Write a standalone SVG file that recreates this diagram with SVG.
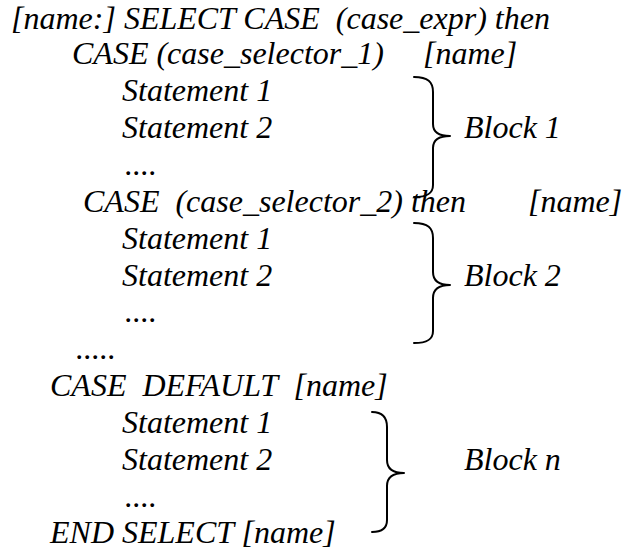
<svg xmlns="http://www.w3.org/2000/svg" width="624" height="550" viewBox="0 0 624 550">
<style>
.t { font-family: 'Liberation Serif', 'DejaVu Serif', serif; font-style: italic; font-size: 32px; fill: #000000; }
.brace { fill: none; stroke: #000000; stroke-width: 2; stroke-linecap: round; stroke-linejoin: round; }
</style>
<rect width="624" height="550" fill="#ffffff"/>
<g class="t" font-family="Liberation Serif, serif" font-style="italic" font-size="32">
<g id="select-head">
<text x="11" y="29" xml:space="preserve">[name:] SELECT CASE  (case_expr) then</text>
</g>
<g id="case-1">
<text x="72" y="64" xml:space="preserve">CASE (case_selector_1)</text>
<text x="423" y="64">[name]</text>
<text x="122" y="101">Statement 1</text>
<text x="122" y="138">Statement 2</text>
<text x="125" y="175">....</text>
<text x="464" y="138">Block 1</text>
</g>
<g id="case-2">
<text x="83" y="212" xml:space="preserve">CASE  (case_selector_2) then</text>
<text x="528" y="212">[name]</text>
<text x="122" y="249">Statement 1</text>
<text x="122" y="286">Statement 2</text>
<text x="125" y="322">....</text>
<text x="464" y="286">Block 2</text>
</g>
<g id="more">
<text x="76" y="359">.....</text>
</g>
<g id="case-default">
<text x="50" y="396" xml:space="preserve">CASE  DEFAULT  [name]</text>
<text x="122" y="433">Statement 1</text>
<text x="122" y="470">Statement 2</text>
<text x="125" y="507">....</text>
<text x="464" y="470">Block n</text>
</g>
<g id="select-end">
<text x="50" y="543">END SELECT [name]</text>
</g>
</g>
<g id="connectors">
<path class="brace" d="M414 77 C428 77 433 82 433 92 L433 124 C433 132 438 136 450 136 C438 136 433 140 433 148 L433 185 C433 193 428 197 414 197"/>
<path class="brace" d="M414 223 C428 223 433 228 433 238 L433 272 C433 280 438 285 450 285 C438 285 433 290 433 298 L433 331 C433 339 428 343 414 343"/>
<path class="brace" d="M372 412 C382 412 387 417 387 427 L387 460 C387 468 392 473 404 473 C392 473 387 478 387 486 L387 520 C387 528 382 532 372 532"/>
</g>
</svg>
